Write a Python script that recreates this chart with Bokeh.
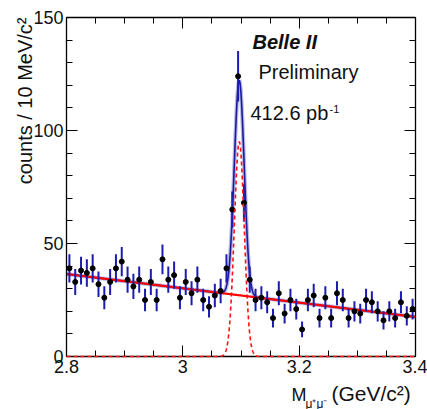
import numpy as np
from bokeh.plotting import figure
from bokeh.models import Label, LinearAxis, FixedTicker, CustomJSTickFormatter
from bokeh.embed import file_html
from bokeh.resources import INLINE

# ---- data ----
bin_low = 2.8
bin_width = 0.01
counts = [39, 33, 38, 37, 39, 32, 26, 33, 39, 42,
          34, 31, 34, 25, 33, 25, 43, 34, 36, 26,
          33, 28, 34, 25, 22, 27, 29, 39, 65, 124,
          68, 34, 25, 26, 24, 17, 28, 19, 25, 21,
          12, 25, 27, 17, 26, 17, 28, 25, 17, 20,
          19, 25, 24, 20, 16, 20, 17, 24, 18, 21]

# fit parameters
bkg_left = 36.5      # background at 2.8
bkg_right = 17.5     # background at 3.4
sig_peak = 95.0
sig_mean = 3.097
sig_sigma = 0.0085

x_lo, x_hi = 2.8, 3.4
y_lo, y_hi = 0, 150
x_major = [2.8, 3.0, 3.2, 3.4]
x_minor = [2.8 + 0.05 * k for k in range(13)]
y_major = [0, 50, 100, 150]
y_minor = list(range(0, 151, 10))

FONT = "Liberation Sans"
TXT = "#111111"

# ---- layout: the plot box sits at pixels 66..415 (x) and 17..356 (y) of a 427x409 canvas
W, H = 427, 409
box_l, box_r, box_t, box_b = 66, 415, 17, 356
sx = (box_r - box_l) / (x_hi - x_lo)
sy = (box_b - box_t) / (y_hi - y_lo)
view_x = (x_lo - box_l / sx, x_lo + (W - box_l) / sx)
view_y = (y_lo - (H - box_b) / sy, y_hi + box_t / sy)

def px_x(px):
    return view_x[0] + px / sx

def px_y(py):
    return y_lo + (box_b - py) / sy

centers = np.array([bin_low + bin_width * (i + 0.5) for i in range(len(counts))])
cnt = np.array(counts, dtype=float)
err = np.sqrt(cnt)

xf = np.linspace(x_lo, x_hi, 1201)
bkg = bkg_left + (bkg_right - bkg_left) * (xf - x_lo) / (x_hi - x_lo)
sig = sig_peak * np.exp(-0.5 * ((xf - sig_mean) / sig_sigma) ** 2)
tot = bkg + sig

p = figure(width=W, height=H, x_range=view_x, y_range=view_y,
           output_backend="svg", toolbar_location=None,
           x_axis_location=None, y_axis_location=None,
           min_border=0, min_border_left=0, min_border_right=0,
           min_border_top=0, min_border_bottom=0)
p.xgrid.visible = False
p.ygrid.visible = False
p.outline_line_color = None
p.background_fill_color = "white"
p.border_fill_color = "white"

label_fmt = CustomJSTickFormatter(code="return String(Math.round(tick*10)/10)")
empty = CustomJSTickFormatter(code="return ''")

bottom = LinearAxis(ticker=FixedTicker(ticks=x_major, minor_ticks=x_minor), formatter=label_fmt,
                    fixed_location=y_lo, bounds=(x_lo, x_hi))
top = LinearAxis(ticker=FixedTicker(ticks=x_major, minor_ticks=x_minor), formatter=empty,
                 fixed_location=y_hi, bounds=(x_lo, x_hi))
left = LinearAxis(ticker=FixedTicker(ticks=y_major, minor_ticks=y_minor),
                  fixed_location=x_lo, bounds=(y_lo, y_hi))
right = LinearAxis(ticker=FixedTicker(ticks=y_major, minor_ticks=y_minor), formatter=empty,
                   fixed_location=x_hi, bounds=(y_lo, y_hi))
p.add_layout(bottom, "below")
p.add_layout(top, "above")
p.add_layout(left, "left")
p.add_layout(right, "right")

for ax in [bottom, left, top, right]:
    ax.major_tick_in = 11
    ax.major_tick_out = 0
    ax.minor_tick_in = 6
    ax.minor_tick_out = 0
    ax.axis_line_color = "black"
    ax.axis_line_width = 1.3
    ax.major_tick_line_color = "black"
    ax.minor_tick_line_color = "black"
    ax.major_label_text_font = FONT
    ax.major_label_text_font_size = "18px"
    ax.major_label_text_color = TXT
    ax.major_label_standoff = 3
for ax in [top, right]:
    ax.major_label_standoff = 0

# fit: total (blue with light halo)
p.line(xf, tot, line_color="#9a9ae0", line_width=4, line_alpha=0.7)
p.line(xf, tot, line_color="#1a1a9a", line_width=1.6)
# background (red)
p.line(xf, bkg, line_color="#ff0000", line_width=2.2)
# signal (red dashed), drawn above the frame lines
p.line(xf, sig, line_color="#ff1010", line_width=1.6, line_dash="4 3", level="overlay")

# data
p.segment(x0=centers, y0=cnt - err, x1=centers, y1=cnt + err, line_color="#1c1cae", line_width=2)
p.segment(x0=centers - 0.003, y0=cnt, x1=centers + 0.003, y1=cnt, line_color="black", line_width=2)
p.scatter(centers, cnt, marker="circle", size=5, color="black")

# texts inside the box
p.add_layout(Label(x=px_x(252), y=px_y(52), text="Belle II", text_font=FONT, text_font_size="20px",
                   text_font_style="bold italic", text_color=TXT))
p.add_layout(Label(x=px_x(258), y=px_y(82), text="Preliminary", text_font=FONT, text_font_size="20px",
                   text_color=TXT))
p.add_layout(Label(x=px_x(250), y=px_y(123), text="412.6 pb", text_font=FONT, text_font_size="20px",
                   text_color=TXT))
p.add_layout(Label(x=px_x(329), y=px_y(112), text="-1", text_font=FONT, text_font_size="11px",
                   text_color=TXT))

# axis titles
p.add_layout(Label(x=px_x(24), y=px_y(17), text="counts / 10 MeV/c²", angle=np.pi / 2,
                   text_align="right", text_baseline="alphabetic", text_font=FONT,
                   text_font_size="20px", text_color=TXT))
p.add_layout(Label(x=px_x(291), y=px_y(404), text="M", text_font=FONT, text_font_size="18px",
                   text_color=TXT))
p.add_layout(Label(x=px_x(305), y=px_y(410), text="μ⁺μ⁻", text_font=FONT, text_font_size="12px",
                   text_color=TXT))
p.add_layout(Label(x=px_x(331), y=px_y(404), text="(GeV/c²)", text_font=FONT, text_font_size="21px",
                   text_color=TXT))

open("out.html", "w").write(file_html(p, INLINE))
